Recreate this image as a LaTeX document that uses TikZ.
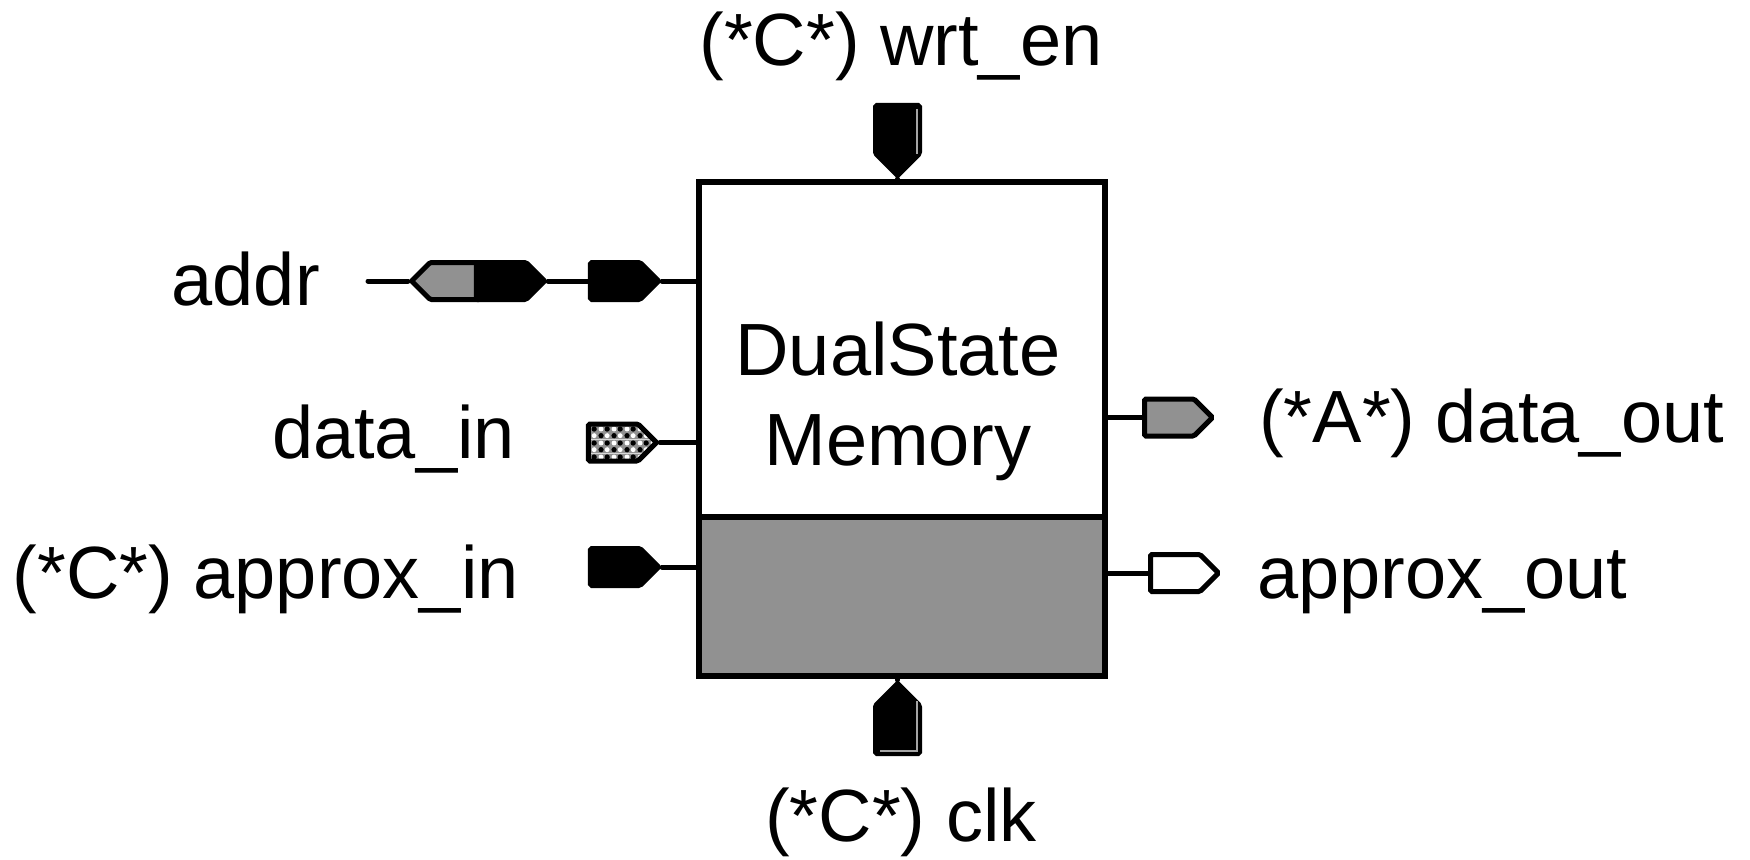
\documentclass[tikz,border=0pt]{standalone}
\usepackage{fontspec}
\setmainfont{Liberation Sans}
\usepackage{tikz}
\usetikzlibrary{shapes.symbols, positioning, patterns, calc}
\definecolor{portgray}{RGB}{145,145,145}
\definecolor{shinegray}{RGB}{165,165,165}
% dithered fill of the data_in port
\pgfdeclarepatterninherentlycolored{memdots}
  {\pgfpointorigin}{\pgfqpoint{13pt}{14pt}}{\pgfqpoint{13pt}{14pt}}
  {\pgfsetfillcolor{portgray}
   \pgfpathrectangle{\pgfpointorigin}{\pgfqpoint{13pt}{14pt}}\pgfusepath{fill}
   \pgfsetfillcolor{black}
   \pgfpathcircle{\pgfqpoint{3.25pt}{3.5pt}}{2.8pt}
   \pgfpathcircle{\pgfqpoint{9.75pt}{10.5pt}}{2.8pt}\pgfusepath{fill}
   \pgfsetfillcolor{white}
   \pgfpathcircle{\pgfqpoint{9.75pt}{3.5pt}}{2.6pt}
   \pgfpathcircle{\pgfqpoint{3.25pt}{10.5pt}}{2.6pt}\pgfusepath{fill}}
\tikzset{
  membox/.style={rectangle, draw=black, line width=6pt, outer sep=0pt, inner sep=0pt,
    minimum width=406pt},
  port/.style={signal, draw=black, line width=5pt, inner sep=0pt, rounded corners=1.5pt,
    signal pointer angle=90, minimum width=68pt, minimum height=37pt},
  vport/.style={port, minimum width=44pt, minimum height=48pt, fill=black},
  shine/.style={draw=shinegray, line width=1.2pt},
  wire/.style={line width=5pt, line cap=round},
  lbl/.style={font=\fontsize{74}{88}\selectfont, inner sep=0pt}
}

\begin{document}
\begin{tikzpicture}[x=1pt, y=-1pt]
  \useasboundingbox (0,0) rectangle (1750,859);
  % memory block
  \node[membox, minimum height=335.5pt] (memtop) at (902,349.25) {};
  \node[membox, minimum height=158.5pt, fill=portgray, anchor=north] (membot) at (memtop.south) {};
  \node[lbl, anchor=base] (memname) at (898,375) {DualState};
  \node[lbl, anchor=base] (memname2) at (898,465) {Memory};
  % top / bottom ports
  \node[vport, signal to=south, anchor=south] (wrten) at (897.5,179) {};
  \node[vport, signal to=north, anchor=north] (clk) at (897.5,680) {};
  \draw[shine] ($(wrten.north)+(19.5,6)$) -- ($(wrten.north)+(19.5,51)$);
  \draw[shine] ($(clk.south)+(19.5,-55)$) -- ($(clk.south)+(19.5,-5)$) -- ($(clk.south)+(-17.5,-5)$);
  % left ports
  \coordinate (addrend) at (368,281);
  \node[port, signal to=west, fill=portgray, anchor=west] (addrin) at (408,281) {};
  \node[port, signal to=east, fill=black, anchor=east] (addrbus) at (548,281) {};
  \node[port, signal to=east, fill=black, anchor=east] (addrport) at (662,281) {};
  \node[port, signal to=east, pattern=memdots, anchor=east] (datain) at (660,442.5) {};
  \node[port, signal to=east, fill=black, anchor=east] (approxin) at (662,567) {};
  % right ports
  \node[port, signal to=east, fill=portgray, anchor=west] (dataout) at (1142,417.5) {};
  \node[port, signal to=east, fill=white, anchor=west] (approxout) at (1148,573) {};
  % wires
  \draw[wire] (wrten.south) -- (wrten.south |- memtop.north);
  \draw[wire] (clk.north) -- (clk.north |- membot.south);
  \draw[wire] (addrend) -- (addrin.west);
  \draw[wire] (addrbus.east) -- (addrport.west);
  \draw[wire] (addrport.east) -- (addrport.east -| memtop.west);
  \draw[wire] (datain.east) -- (datain.east -| memtop.west);
  \draw[wire] (approxin.east) -- (approxin.east -| membot.west);
  \draw[wire] (dataout.west -| memtop.east) -- (dataout.west);
  \draw[wire] (approxout.west -| membot.east) -- (approxout.west);
  % labels
  \node[lbl, anchor=base] (wrtenlbl) at (901,66) {(*C*) wrt\_en};
  \node[lbl, anchor=base] (clklbl) at (901,841) {(*C*) clk};
  \node[lbl, anchor=base east] (addrlbl) at (320,305) {addr};
  \node[lbl, anchor=base east] (datainlbl) at (515,458) {data\_in};
  \node[lbl, anchor=base east] (approxinlbl) at (519,598) {(*C*) approx\_in};
  \node[lbl, anchor=base west] (dataoutlbl) at (1259,442) {(*A*) data\_out};
  \node[lbl, anchor=base west] (approxoutlbl) at (1257,598) {approx\_out};
\end{tikzpicture}
\end{document}
